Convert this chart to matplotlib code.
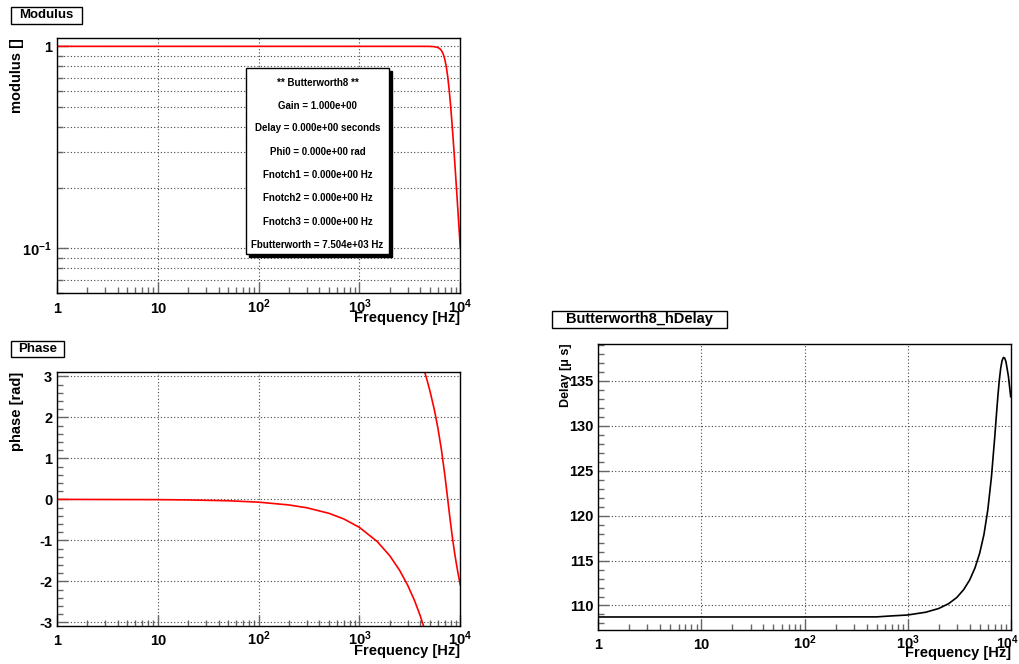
import matplotlib
matplotlib.use('Agg')
import matplotlib.pyplot as plt
from matplotlib.patches import Rectangle
from matplotlib.transforms import ScaledTranslation
from matplotlib.ticker import FixedLocator, NullFormatter, MultipleLocator, LogLocator

plt.rcParams['font.family'] = ['Liberation Sans', 'DejaVu Sans']
plt.rcParams['font.weight'] = 'bold'
plt.rcParams['mathtext.fontset'] = 'custom'
plt.rcParams['mathtext.rm'] = 'Liberation Sans:bold'
plt.rcParams['mathtext.bf'] = 'Liberation Sans:bold'
plt.rcParams['mathtext.default'] = 'rm'
plt.rcParams['axes.unicode_minus'] = False

# --- data (Butterworth8, Fc = 7504 Hz) ---
mod_freq = [1, 10, 100, 1000, 3000, 4000, 5000, 5500, 6000, 6250, 6500, 6750, 7000,
            7250, 7500, 7750, 8000, 8250, 8500, 8750, 9000, 9250, 9500, 9750, 10000]
mod_val = [1.0, 1.0, 1.0, 1.0, 1.0, 1.0, 0.9993, 0.9965, 0.9864, 0.9742, 0.9535, 0.9191, 0.8676,
           0.7966, 0.7086, 0.6114, 0.5141, 0.4242, 0.3460, 0.2808, 0.2274, 0.1844, 0.1498, 0.1222, 0.1000]

ph_low_freq = [1, 10, 20, 50, 100, 200, 300, 500, 700, 1000, 1500, 2000, 2500, 3000, 3500, 4000, 4390]
ph_low_val = [-0.0007, -0.0068, -0.0137, -0.0342, -0.0683, -0.1366, -0.2050, -0.3416, -0.4787, -0.6845,
              -1.0297, -1.3778, -1.7310, -2.0903, -2.4579, -2.8359, -3.1416]
ph_high_freq = [4400, 4500, 4700, 5000, 5500, 5650, 6000, 6500, 7000, 7250, 7504, 7750, 8000, 8250,
                8500, 8750, 9000, 9500, 10000]
ph_high_val = [3.1349, 3.0552, 2.8937, 2.6447, 2.2091, 2.0710, 1.7344, 1.2076, 0.6216, 0.3131, 0.0,
               -0.2936, -0.5741, -0.8322, -1.0668, -1.2791, -1.4713, -1.8061, -2.0886]

delay_freq = [1, 10, 100, 300, 500, 700, 1000, 1500, 2000, 2500, 3000, 3500, 4000, 4500, 5000, 5500,
              6000, 6500, 7000, 7250, 7504, 7750, 8000, 8250, 8500, 8750, 9000, 9500, 10000]
delay_val = [108.72, 108.72, 108.72, 108.73, 108.73, 108.84, 108.94, 109.25, 109.66, 110.20, 110.89,
             111.77, 112.84, 114.17, 115.82, 117.89, 120.66, 124.28, 128.73, 131.06, 133.26, 135.06,
             136.42, 137.27, 137.62, 137.55, 137.13, 135.52, 133.24]

decade_ticks = [1, 10, 100, 1000, 10000]
decade_labels = ['1', '10', r'$10^{2}$', r'$10^{3}$', r'$10^{4}$']

info_lines = ['** Butterworth8 **', 'Gain = 1.000e+00', 'Delay = 0.000e+00 seconds',
              'Phi0 = 0.000e+00 rad', 'Fnotch1 = 0.000e+00 Hz', 'Fnotch2 = 0.000e+00 Hz',
              'Fnotch3 = 0.000e+00 Hz', 'Fbutterworth = 7.504e+03 Hz']

W, H = 1020, 664
fig = plt.figure(figsize=(W / 100, H / 100), dpi=100)


def axes_px(x0, y0, x1, y1):
    return fig.add_axes([x0 / W, 1 - y1 / H, (x1 - x0) / W, (y1 - y0) / H])


def box_px(x0, y0, x1, y1, text, size):
    fig.add_artist(Rectangle((x0 / W, 1 - y1 / H), (x1 - x0) / W, (y1 - y0) / H,
                             transform=fig.transFigure, facecolor='white', edgecolor='black', lw=1))
    fig.text((x0 + x1) / 2 / W, 1 - (y0 + y1) / 2 / H, text, ha='center', va='center',
             fontsize=size, fontweight='bold')


def style(ax, height_px, width_px, ylab, ylab_off):
    ax.set_xscale('log')
    ax.set_xlim(1, 1e4)
    ax.xaxis.set_major_locator(FixedLocator(decade_ticks))
    ax.set_xticklabels(decade_labels)
    ax.xaxis.set_minor_locator(LogLocator(base=10, subs=range(2, 10), numticks=20))
    ax.xaxis.set_minor_formatter(NullFormatter())
    ax.tick_params(which='both', direction='in', top=False, right=False, color='#666666', width=1)
    ax.tick_params(which='major', length=8, labelsize=10.5)
    ax.tick_params(axis='x', which='major', pad=14)
    ax.tick_params(axis='y', which='major', pad=3.5)
    ax.tick_params(which='minor', length=4.5)
    for t in ax.xaxis.get_major_ticks():
        t.label1.set_verticalalignment('baseline')
    ax.grid(True, which='major', axis='both', ls=(0, (1, 2)), color='#444444', lw=0.8)
    for s in ax.spines.values():
        s.set_linewidth(1)
    ax.set_xlabel('Frequency [Hz]', fontsize=10.5, fontweight='bold', ha='right', va='center')
    ax.xaxis.set_label_coords(1.0, -25 / height_px)
    ax.set_ylabel(ylab, fontsize=10.5, fontweight='bold', ha='right', va='center')
    ax.yaxis.set_label_coords(-ylab_off / width_px, 1.0)


# Modulus
ax_mod = axes_px(57, 38.3, 460.3, 293.3)
ax_mod.plot(mod_freq, mod_val, color='red', lw=1.2)
ax_mod.set_yscale('log')
ax_mod.set_ylim(0.0599, 1.096)
style(ax_mod, 255, 403, 'modulus []', 40)
ax_mod.yaxis.set_major_locator(FixedLocator([0.1, 1]))
ax_mod.set_yticklabels([r'$10^{-1}$', '1'])
ax_mod.yaxis.set_minor_locator(LogLocator(base=10, subs=range(2, 10), numticks=20))
ax_mod.yaxis.set_minor_formatter(NullFormatter())
ax_mod.grid(True, which='minor', axis='y', ls=(0, (1, 2)), color='#444444', lw=0.8)

# info pave
sx, sy = 3, 3
fig.add_artist(Rectangle(((246.3 + sx) / W, 1 - (254 + sy) / H), 142.4 / W, 186.3 / H,
                         transform=fig.transFigure, facecolor='black', edgecolor='black', lw=1))
fig.add_artist(Rectangle((246.3 / W, 1 - 254 / H), 142.4 / W, 186.3 / H,
                         transform=fig.transFigure, facecolor='white', edgecolor='black', lw=1))
line_y = [82.7, 106, 127.7, 151.7, 175, 198.3, 221.7, 245]
for yy, txt in zip(line_y, info_lines):
    fig.text(317.5 / W, 1 - yy / H, txt, ha='center', va='center', fontsize=7, fontweight='bold')

# Phase
ax_ph = axes_px(57, 371.7, 460.3, 626)
ax_ph.plot(ph_low_freq, ph_low_val, color='red', lw=1.2)
ax_ph.plot(ph_high_freq, ph_high_val, color='red', lw=1.2)
ax_ph.set_ylim(-3.09, 3.115)
style(ax_ph, 254.3, 403, 'phase [rad]', 40)
ax_ph.yaxis.set_major_locator(MultipleLocator(1))
ax_ph.yaxis.set_minor_locator(MultipleLocator(0.2))

# Delay
ax_dl = axes_px(598.3, 343.7, 1010.7, 630)
ax_dl.plot(delay_freq, delay_val, color='black', lw=1.2)
ax_dl.set_ylim(107.27, 139.15)
style(ax_dl, 286.3, 412.4, 'Delay [\u03bc s]', 32.5)
ax_dl.yaxis.label.set_fontsize(9)
ax_dl.xaxis.set_label_coords(1.0, -22.5 / 286.3)
ax_dl.yaxis.set_major_locator(MultipleLocator(5))
ax_dl.yaxis.set_minor_locator(MultipleLocator(1))
# keep the last decade label inside the canvas
last = ax_dl.xaxis.get_major_ticks()[-1].label1
last.set_fontsize(10)
last.set_transform(last.get_transform() + ScaledTranslation(-3 / 100, 0, fig.dpi_scale_trans))

# pad titles
box_px(10.7, 7.3, 82, 23.7, 'Modulus', 9.5)
box_px(10.7, 340.7, 64.3, 356.7, 'Phase', 9.5)
box_px(551.7, 310.7, 727.3, 328, 'Butterworth8_hDelay', 10.5)

fig.savefig('out.png', dpi=100)
